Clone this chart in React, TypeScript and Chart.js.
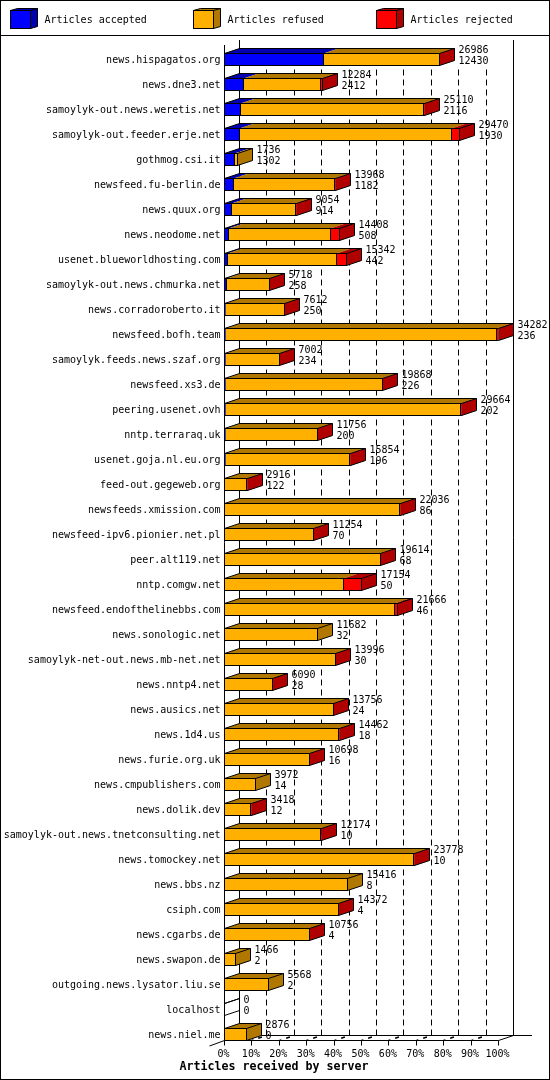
import React, { useEffect, useRef } from 'react';
import { Chart, Plugin, registerables } from 'chart.js';

Chart.register(...registerables);

const servers = [
  'news.hispagatos.org', 'news.dne3.net', 'samoylyk-out.news.weretis.net', 'samoylyk-out.feeder.erje.net',
  'gothmog.csi.it', 'newsfeed.fu-berlin.de', 'news.quux.org', 'news.neodome.net',
  'usenet.blueworldhosting.com', 'samoylyk-out.news.chmurka.net', 'news.corradoroberto.it', 'newsfeed.bofh.team',
  'samoylyk.feeds.news.szaf.org', 'newsfeed.xs3.de', 'peering.usenet.ovh', 'nntp.terraraq.uk',
  'usenet.goja.nl.eu.org', 'feed-out.gegeweb.org', 'newsfeeds.xmission.com', 'newsfeed-ipv6.pionier.net.pl',
  'peer.alt119.net', 'nntp.comgw.net', 'newsfeed.endofthelinebbs.com', 'news.sonologic.net',
  'samoylyk-net-out.news.mb-net.net', 'news.nntp4.net', 'news.ausics.net', 'news.1d4.us',
  'news.furie.org.uk', 'news.cmpublishers.com', 'news.dolik.dev', 'samoylyk-out.news.tnetconsulting.net',
  'news.tomockey.net', 'news.bbs.nz', 'csiph.com', 'news.cgarbs.de',
  'news.swapon.de', 'outgoing.news.lysator.liu.se', 'localhost', 'news.niel.me',
];

const totals = [
  26986, 12284, 25110, 29470, 1736, 13968, 9054, 14408, 15342, 5718,
  7612, 34282, 7002, 19868, 29664, 11756, 15854, 2916, 22036, 11254,
  19614, 17154, 21666, 11682, 13996, 6090, 13756, 14462, 10698, 3972,
  3418, 12174, 23778, 15416, 14372, 10756, 1466, 5568, 0, 2876,
];

const accepted = [
  12430, 2412, 2116, 1930, 1302, 1182, 914, 508, 442, 258,
  250, 236, 234, 226, 202, 200, 196, 122, 86, 70,
  68, 50, 46, 32, 30, 28, 24, 18, 16, 14,
  12, 10, 10, 8, 4, 4, 2, 2, 0, 0,
];

const refused = [
  14496, 9722, 22844, 26500, 434, 12606, 8010, 12860, 13610, 5420,
  7322, 33796, 6728, 19602, 29402, 11516, 15558, 2754, 21910, 11144,
  19506, 14934, 21320, 11650, 13926, 6022, 13692, 14344, 10642, 3958,
  3306, 12124, 23668, 15408, 14328, 10712, 1464, 5566, 0, 2876,
];

const rejected = [
  60, 150, 150, 1040, 0, 180, 130, 1040, 1290, 40,
  40, 250, 40, 40, 60, 40, 100, 40, 40, 40,
  40, 2170, 300, 0, 40, 40, 40, 100, 40, 0,
  100, 40, 100, 0, 40, 40, 0, 0, 0, 0,
];

const legendX = [10, 193, 376];
const axisMax = 34282;
const title = 'Articles received by server';

const colors = ['#0000FF', '#FFB000', '#FF0000'];
const darkColors = ['#0000B0', '#B07800', '#B00000'];

const monoFont = '"DejaVu Sans Mono", monospace';
const depthX = 15;
const depthY = 5;

const line = (ctx: CanvasRenderingContext2D, x0: number, y0: number, x1: number, y1: number) => {
  ctx.beginPath();
  ctx.moveTo(x0, y0);
  ctx.lineTo(x1, y1);
  ctx.stroke();
};

// bars, walls and legend get the old gd-style fake 3D look
const depthPlugin: Plugin<'bar'> = {
  id: 'depth',
  beforeDraw(chart) {
    const { ctx, width, height } = chart;
    ctx.save();
    ctx.fillStyle = '#FFFFFF';
    ctx.fillRect(0, 0, width, height);
    ctx.restore();
  },
  afterDatasetsUpdate(chart) {
    // snap segment edges to whole pixels so borders stay sharp
    chart.data.datasets.forEach((_, d) => {
      chart.getDatasetMeta(d).data.forEach((el: any) => {
        el.x = Math.round(el.x);
        el.base = Math.round(el.base);
      });
    });
  },
  beforeDatasetsDraw(chart) {
    const { ctx, width, height } = chart;
    const xScale = chart.scales.x;
    const ticks = xScale.ticks.map((_, i) => Math.round(xScale.getPixelForTick(i) - 0.5) + 0.5);
    const frontX = ticks[0];
    const endX = ticks[ticks.length - 1];
    const backFloor = 1035.5;
    const frontFloor = 1040.5;

    ctx.save();
    ctx.strokeStyle = '#000000';
    ctx.fillStyle = '#000000';
    ctx.lineWidth = 1;

    // frame and legend separator
    ctx.strokeRect(0.5, 0.5, width - 1, height - 1);
    line(ctx, 0, 35.5, width, 35.5);

    // legend
    colors.forEach((color, i) => {
      const x = legendX[i] + 0.5;
      ctx.fillStyle = darkColors[i];
      ctx.beginPath();
      ctx.moveTo(x, 10.5);
      ctx.lineTo(x + 7, 8.5);
      ctx.lineTo(x + 27, 8.5);
      ctx.lineTo(x + 27, 26.5);
      ctx.lineTo(x + 20, 28.5);
      ctx.lineTo(x + 20, 10.5);
      ctx.closePath();
      ctx.fill();
      ctx.stroke();
      line(ctx, x + 20, 10.5, x + 27, 8.5);
      ctx.fillStyle = color;
      ctx.fillRect(x, 10.5, 20, 18);
      ctx.strokeRect(x, 10.5, 20, 18);
      ctx.fillStyle = '#000000';
      ctx.font = `10px ${monoFont}`;
      ctx.textAlign = 'left';
      ctx.textBaseline = 'middle';
      ctx.fillText(String(chart.data.datasets[i].label), legendX[i] + 34.5, 20);
    });

    // walls
    line(ctx, frontX, 45, frontX, frontFloor);
    line(ctx, frontX + depthX, 40, frontX + depthX, backFloor);
    line(ctx, endX + depthX, 40, endX + depthX, backFloor);
    line(ctx, frontX, frontFloor, endX, frontFloor);
    line(ctx, frontX + depthX, backFloor, 532, backFloor);
    line(ctx, frontX, frontFloor, frontX - depthX, frontFloor + depthY + 0.5);

    // grid on the back wall, floor lines and ticks
    ticks.forEach((x, i) => {
      const isLast = i === ticks.length - 1;
      line(ctx, x, frontFloor, x, frontFloor + 5);
      if (isLast) {
        line(ctx, x, frontFloor, x + depthX, backFloor);
      } else if (i > 0) {
        ctx.setLineDash([2, 5, 4, 100]);
        ctx.lineWidth = 1.5;
        line(ctx, x, frontFloor, x + depthX, backFloor);
        ctx.lineWidth = 1;
        // dashes are laid out from the floor upwards
        ctx.setLineDash([6, 4]);
        line(ctx, x + depthX, backFloor, x + depthX, 66);
        ctx.setLineDash([]);
      }
    });

    // top and side faces of each stacked bar
    const metas = chart.data.datasets.map((_, d) => chart.getDatasetMeta(d).data as any[]);
    servers.forEach((_, i) => {
      const yTop = metas[0][i].y - 6;
      const yBottom = metas[0][i].y + 6;
      const start = frontX;
      let end = start;
      let last = -1;
      metas.forEach((data, d) => {
        const el = data[i];
        if (Number(chart.data.datasets[d].data[i]) <= 0) return;
        last = d;
        if (el.x <= el.base) return;
        const x0 = el.base - 0.5;
        const x1 = el.x - 0.5;
        ctx.fillStyle = darkColors[d];
        ctx.beginPath();
        ctx.moveTo(x0, yTop);
        ctx.lineTo(x0 + depthX, yTop - depthY);
        ctx.lineTo(x1 + depthX, yTop - depthY);
        ctx.lineTo(x1, yTop);
        ctx.closePath();
        ctx.fill();
        end = x1;
      });
      if (last >= 0) {
        ctx.fillStyle = darkColors[last];
        ctx.beginPath();
        ctx.moveTo(end, yTop);
        ctx.lineTo(end + depthX, yTop - depthY);
        ctx.lineTo(end + depthX, yBottom - depthY);
        ctx.lineTo(end, yBottom);
        ctx.closePath();
        ctx.fill();
      }
      ctx.beginPath();
      ctx.moveTo(start, yTop);
      ctx.lineTo(start + depthX, yTop - depthY);
      ctx.lineTo(end + depthX, yTop - depthY);
      ctx.lineTo(end + depthX, yBottom - depthY);
      ctx.lineTo(end, yBottom);
      ctx.moveTo(end, yTop);
      ctx.lineTo(end + depthX, yTop - depthY);
      ctx.stroke();
    });
    ctx.restore();
  },
  afterDatasetsDraw(chart) {
    const { ctx } = chart;
    const metas = chart.data.datasets.map((_, d) => chart.getDatasetMeta(d).data as any[]);
    ctx.save();
    ctx.fillStyle = '#000000';
    ctx.font = `10px ${monoFont}`;
    ctx.textAlign = 'left';
    ctx.textBaseline = 'middle';
    servers.forEach((_, i) => {
      const el = metas[2][i];
      const x = el.x - 0.5 + depthX + 4;
      ctx.fillText(String(totals[i]), x, el.y - 9);
      ctx.fillText(String(accepted[i]), x, el.y + 2);
    });
    ctx.font = `bold 11.63px ${monoFont}`;
    ctx.textAlign = 'center';
    ctx.fillText(title, 274, 1067);
    ctx.restore();
  },
};

const App: React.FC = () => {
  const chartRef = useRef<HTMLCanvasElement>(null);

  useEffect(() => {
    if (!chartRef.current) return;

    const chart = new Chart(chartRef.current, {
      type: 'bar',
      data: {
        labels: servers,
        datasets: [
          { label: 'Articles accepted', data: accepted },
          { label: 'Articles refused', data: refused },
          { label: 'Articles rejected', data: rejected },
        ].map((set, i) => ({
          ...set,
          backgroundColor: colors[i],
          borderColor: '#000000',
          borderWidth: 1,
          borderSkipped: 'start' as const,
          inflateAmount: 0,
          barThickness: 13,
        })),
      },
      options: {
        indexAxis: 'y',
        responsive: false,
        animation: false,
        devicePixelRatio: 1,
        layout: { padding: { top: 47, right: 51.5, left: 0, bottom: 0 } },
        plugins: {
          legend: { display: false },
          title: { display: false },
          tooltip: { enabled: false },
        },
        scales: {
          x: {
            type: 'linear',
            stacked: true,
            min: 0,
            max: axisMax,
            grid: { display: false, drawTicks: false },
            border: { display: false },
            afterFit: (scale) => {
              scale.height = 33;
            },
            ticks: {
              stepSize: axisMax / 10,
              autoSkip: false,
              maxRotation: 0,
              padding: 1,
              labelOffset: -1,
              color: '#000000',
              font: { family: monoFont, size: 10 },
              callback: (value) => `${Math.round((Number(value) / axisMax) * 100)}%`,
            },
          },
          y: {
            type: 'category',
            stacked: true,
            grid: { display: false, drawTicks: false },
            border: { display: false },
            afterFit: (scale) => {
              scale.width = 224.5;
            },
            ticks: {
              autoSkip: false,
              padding: 4,
              labelOffset: 1,
              color: '#000000',
              font: { family: monoFont, size: 10 },
            },
          },
        },
      },
      plugins: [depthPlugin],
    });

    return () => {
      chart.destroy();
    };
  }, []);

  return (
    <div style={{ position: 'absolute', left: 0, top: 0 }}>
      <canvas ref={chartRef} width={550} height={1080} style={{ display: 'block' }} />
    </div>
  );
};

export default App;
